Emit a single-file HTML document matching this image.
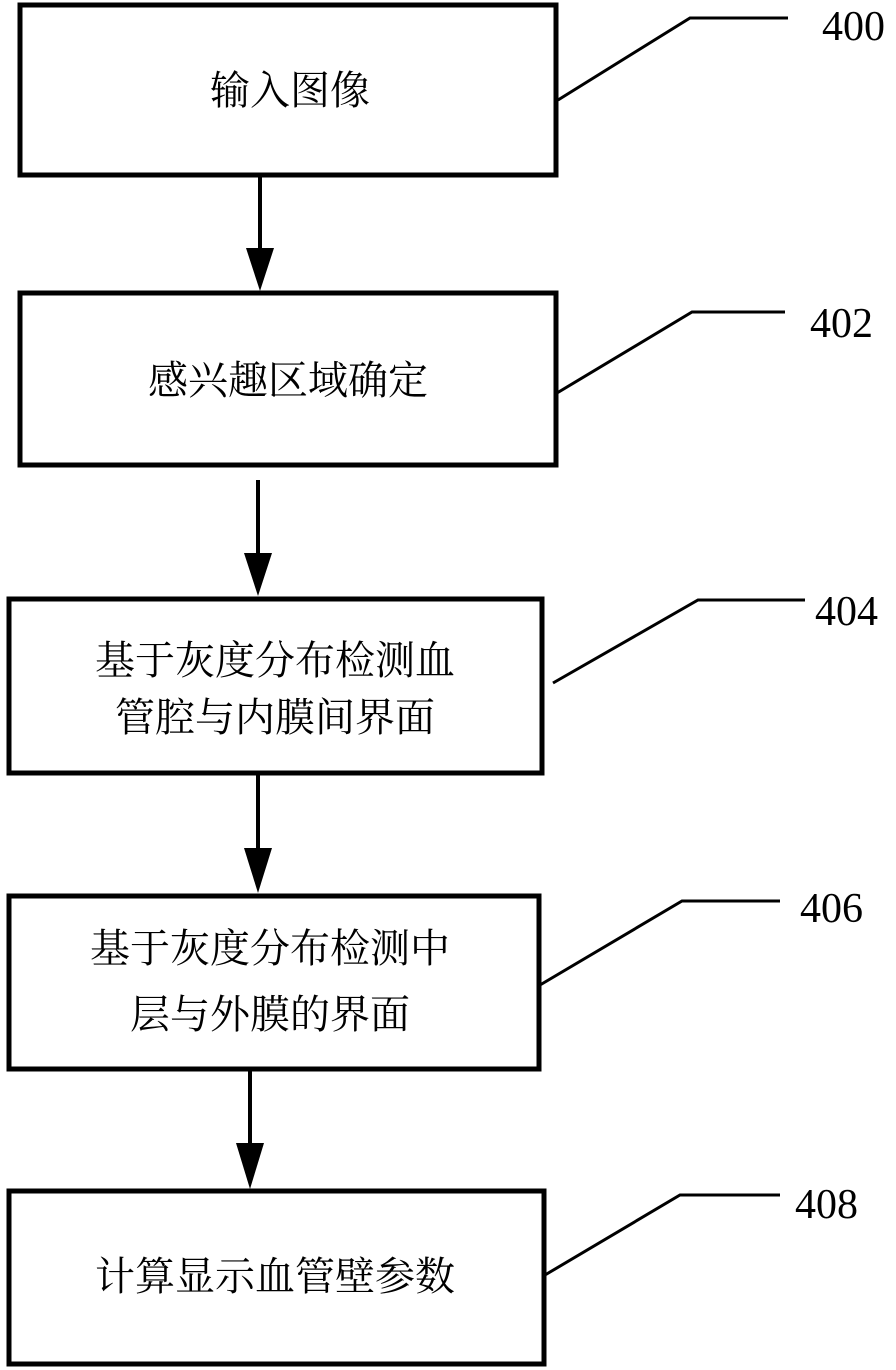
<!DOCTYPE html>
<html><head><meta charset="utf-8"><style>
html,body{margin:0;padding:0;background:#fff;}
svg{display:block;}
.t{font-family:"Liberation Serif","Noto Serif CJK SC","Noto Sans CJK SC",serif;font-size:40px;fill:#000;}
.n{font-family:"Liberation Serif",serif;font-size:42px;fill:#000;}
</style></head><body>
<svg width="896" height="1370" viewBox="0 0 896 1370" xmlns="http://www.w3.org/2000/svg">
<g fill="none" stroke="#000" stroke-width="5">
<rect x="20" y="5" width="536" height="170"/>
<rect x="20" y="293" width="536" height="172"/>
<rect x="9" y="599" width="533" height="174"/>
<rect x="9" y="896" width="530" height="173"/>
<rect x="9" y="1191" width="535" height="173"/>
</g>
<g fill="none" stroke="#000" stroke-width="4">
<line x1="260" y1="177" x2="260" y2="250"/>
<line x1="258" y1="480" x2="258" y2="555"/>
<line x1="258" y1="775" x2="258" y2="850"/>
<line x1="250" y1="1071" x2="250" y2="1145"/>
</g>
<g fill="#000">
<polygon points="246,248 274,248 260,291"/>
<polygon points="244,553 272,553 258,596"/>
<polygon points="244,848 272,848 258,893"/>
<polygon points="236,1143 264,1143 250,1189"/>
</g>
<g fill="none" stroke="#000" stroke-width="3">
<polyline points="558,100 690,18 788,18"/>
<polyline points="557,393 692,312 785,312"/>
<polyline points="553,683 698,600 805,600"/>
<polyline points="540,985 682,901 780,901"/>
<polyline points="545,1275 680,1195 780,1195"/>
</g>
<text class="n" x="822" y="40">400</text>
<text class="n" x="810" y="337">402</text>
<text class="n" x="815" y="625">404</text>
<text class="n" x="800" y="922">406</text>
<text class="n" x="795" y="1218">408</text>
<g class="t" text-anchor="middle">
<text x="290" y="104">输入图像</text>
<text x="288" y="394">感兴趣区域确定</text>
<text x="275" y="674">基于灰度分布检测血</text>
<text x="275" y="731">管腔与内膜间界面</text>
<text x="270" y="962">基于灰度分布检测中</text>
<text x="270" y="1028">层与外膜的界面</text>
<text x="275" y="1290">计算显示血管壁参数</text>
</g>
</svg>
</body></html>
